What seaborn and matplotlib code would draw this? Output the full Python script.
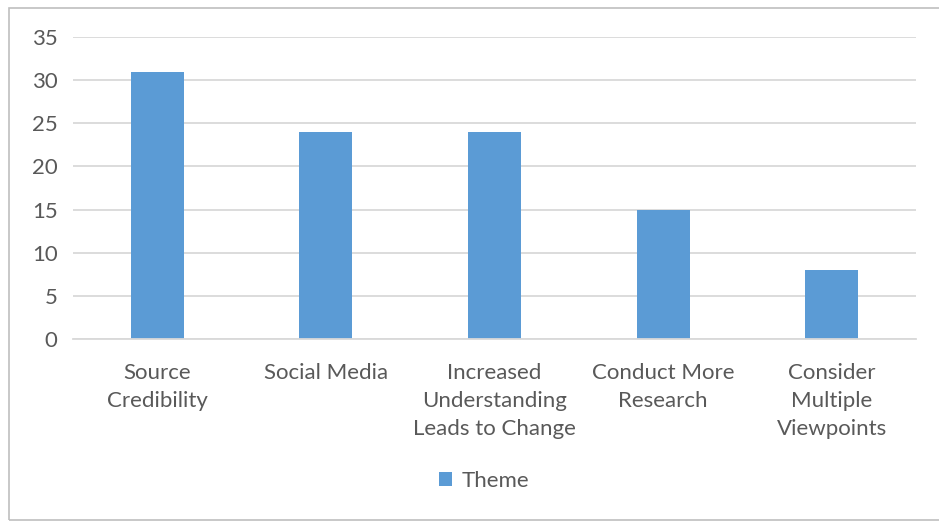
import matplotlib
matplotlib.use("Agg")
import matplotlib.pyplot as plt
import seaborn as sns
import pandas as pd
from matplotlib.patches import Rectangle, Patch

categories = ["Source\nCredibility", "Social Media", "Increased\nUnderstanding\nLeads to Change",
              "Conduct More\nResearch", "Consider\nMultiple\nViewpoints"]
values = [31, 24, 24, 15, 8]
series_name = "Theme"
y_ticks = [0, 5, 10, 15, 20, 25, 30, 35]

bar_color = "#5B9BD5"
text_color = "#595959"
grid_color = "#D9D9D9"

sns.set_theme(style="white")
plt.rcParams["font.family"] = ["Lato", "DejaVu Sans"]

df = pd.DataFrame({"category": categories, "value": values, "series": series_name})

W, H = 939, 523
fs = 16
fig = plt.figure(figsize=(W / 100, H / 100), dpi=100)
ax = fig.add_axes([73 / W, 1 - 339 / H, (916 - 73) / W, (339 - 37) / H])

sns.barplot(data=df, x="category", y="value", color=bar_color, width=0.315,
            saturation=1, ax=ax, legend=False, edgecolor="none", linewidth=0)

ax.set_ylim(0, 35)
ax.set_yticks(y_ticks)
ax.set_xlim(-0.5, len(categories) - 0.5)
ax.yaxis.grid(True, color=grid_color, linewidth=1.3)
ax.set_axisbelow(True)
for side in ["top", "right", "left"]:
    ax.spines[side].set_visible(False)
ax.spines["bottom"].set_color(grid_color)
ax.spines["bottom"].set_linewidth(1.3)
ax.set_xlabel("")
ax.set_ylabel("")
ax.tick_params(axis="y", length=0, pad=11, labelsize=fs, labelcolor=text_color)
ax.tick_params(axis="x", length=0, pad=17.5, labelsize=fs, labelcolor=text_color)
for lbl in ax.get_xticklabels():
    lbl.set_linespacing(1.5)
    lbl.set_verticalalignment("top")

handle = Patch(facecolor=bar_color, edgecolor="none")
fig.legend([handle], [series_name], loc="center", bbox_to_anchor=(484 / W, 1 - 481 / H),
           frameon=False, fontsize=fs, labelcolor=text_color, handlelength=0.6,
           handleheight=0.6, handletextpad=0.4)

# Chart frame
fig.patches.append(Rectangle((8.5 / W, 1 - 519.5 / H), 1.2, (519.5 - 7.5) / H,
                             transform=fig.transFigure, fill=False,
                             edgecolor="#BFBFBF", linewidth=1.2))

fig.savefig("out.png", dpi=100, facecolor="white")
